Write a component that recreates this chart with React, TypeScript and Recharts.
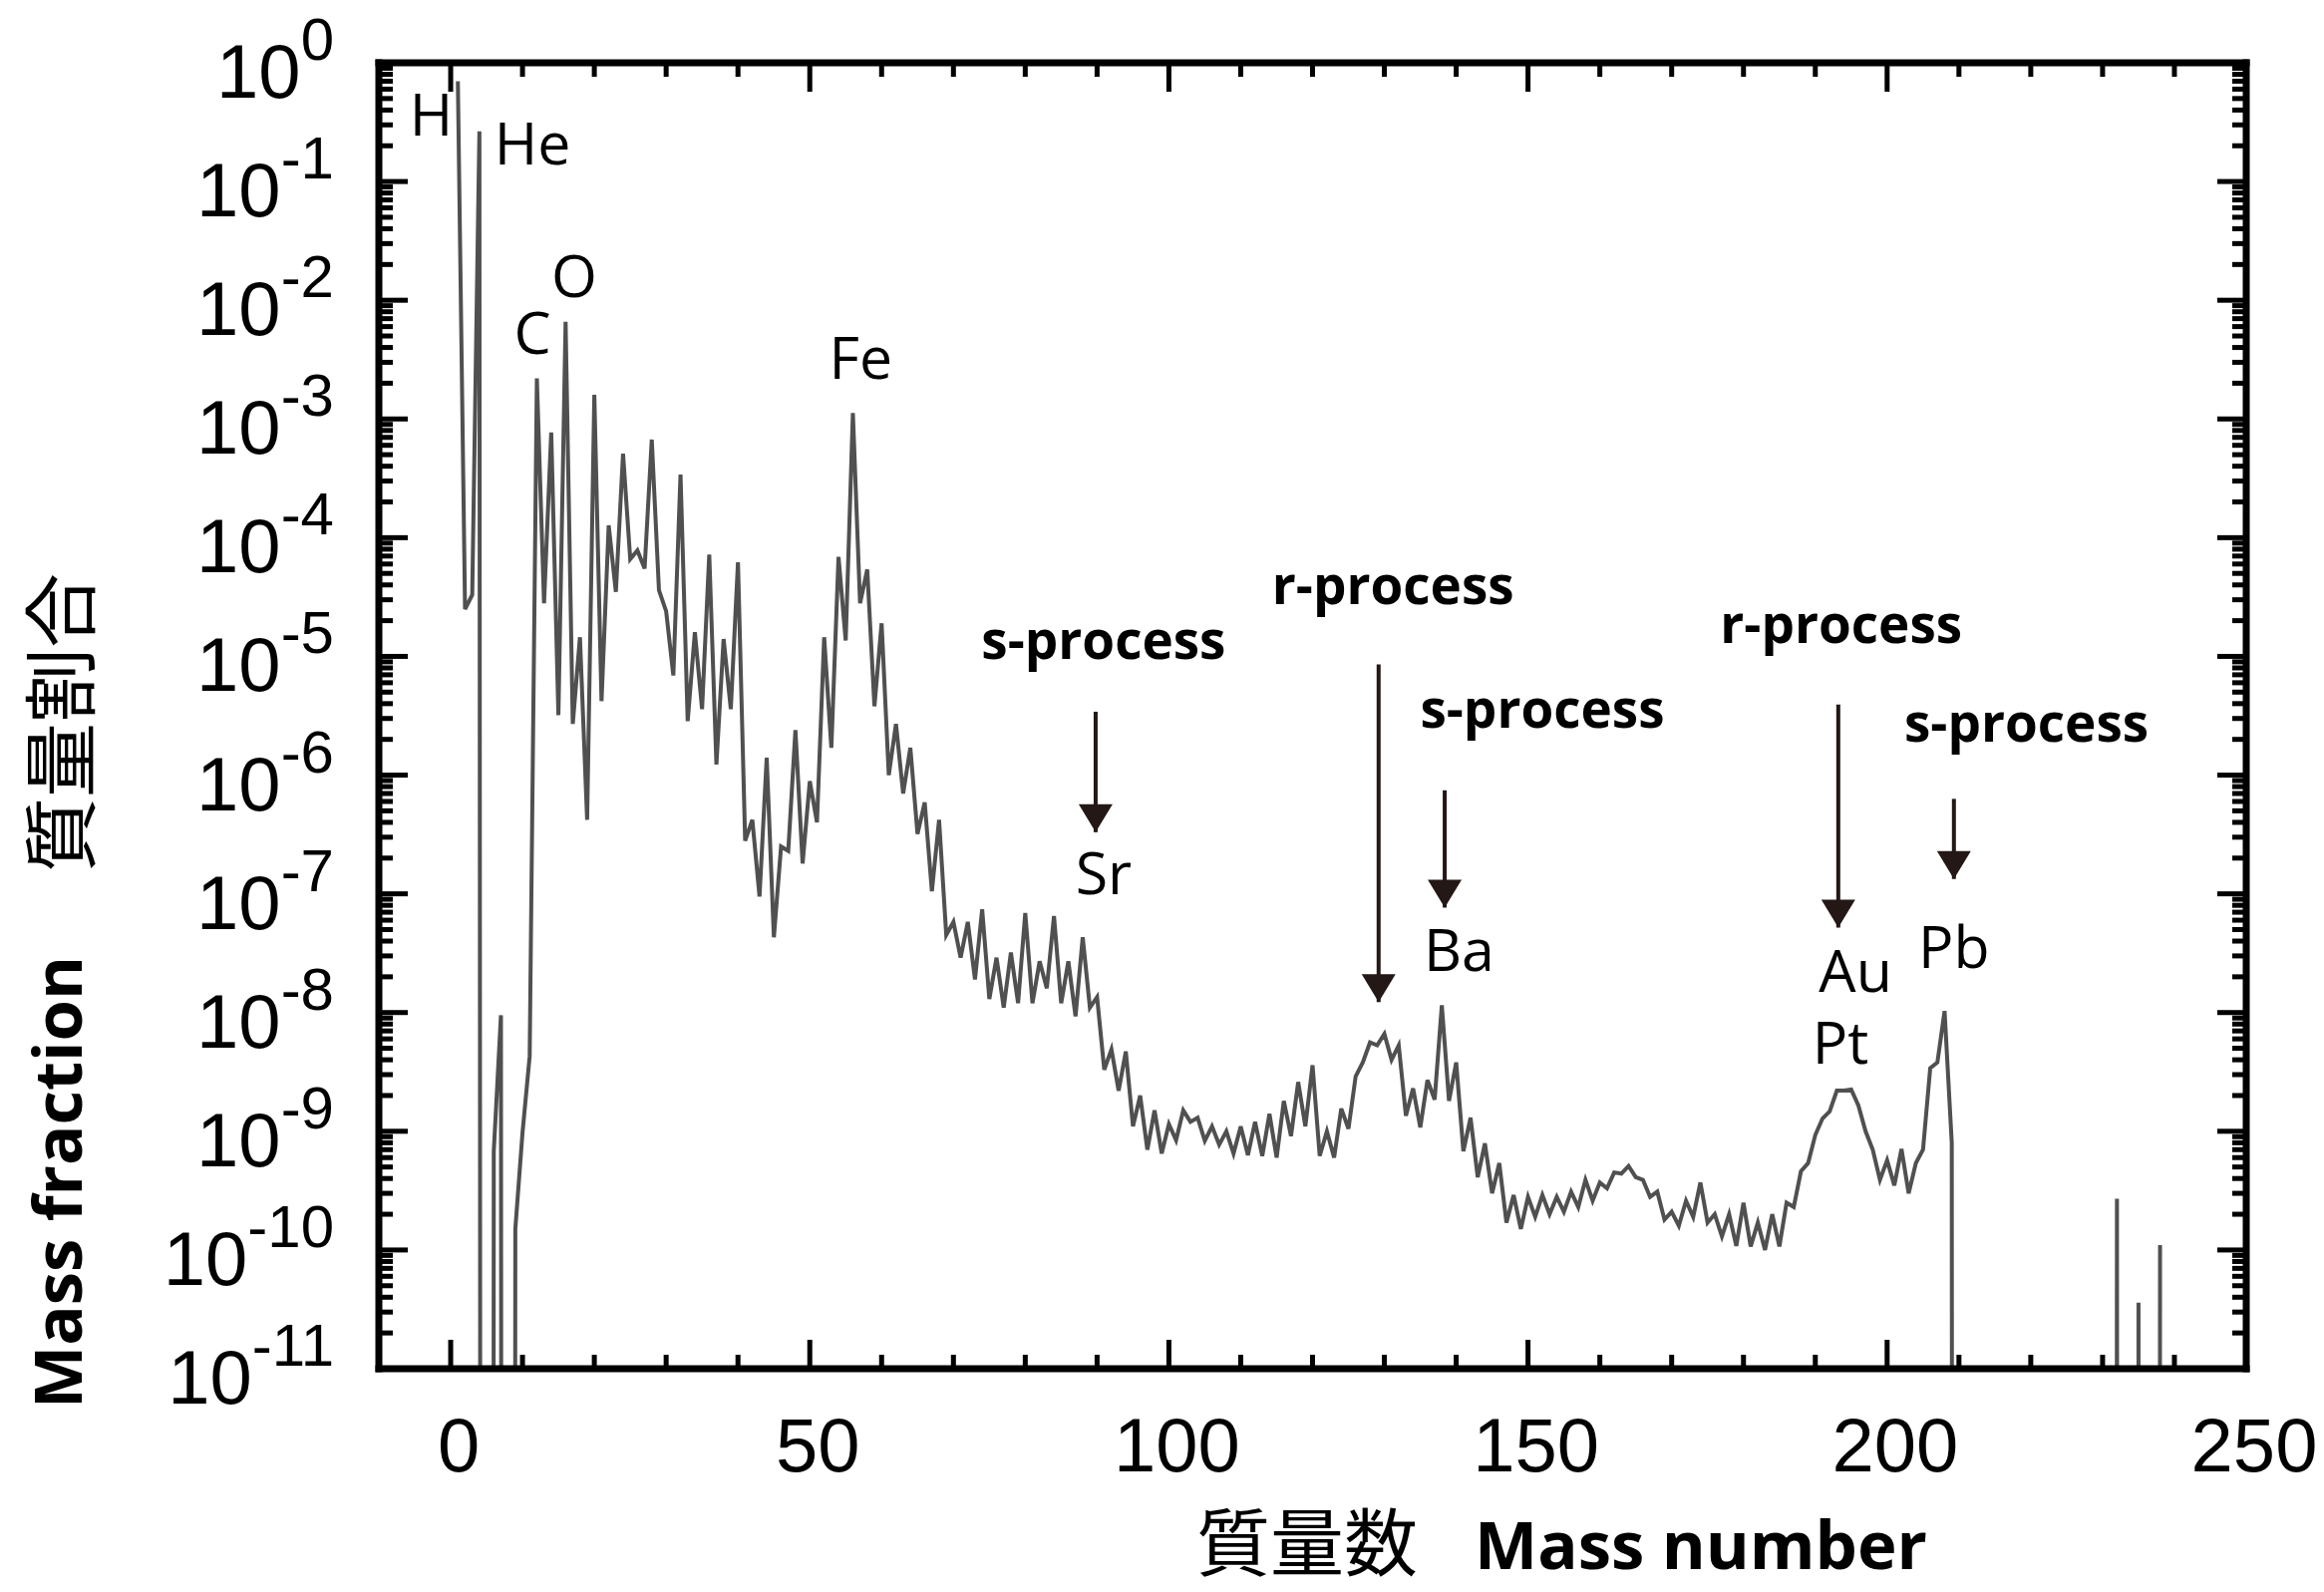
import React from 'react';
import { LineChart, Line, XAxis, YAxis, ReferenceDot, ReferenceLine } from 'recharts';

// Solar-system mass fraction for each mass number A = 1 … 238 (0 = no stable nuclide)
const massFractions: number[] = [
  // A 1–10
  0.7, 2.5e-5, 3.3e-5, 0.265, 0, 6.8e-10, 9.5e-9, 0, 1.5e-10, 9.7e-10,
  // A 11–20
  4.3e-9, 2.2e-3, 2.8e-5, 7.7e-4, 3.2e-6, 6.6e-3, 2.7e-6, 1.45e-5, 4.2e-7, 1.6e-3,
  // A 21–30
  4.2e-6, 1.27e-4, 3.5e-5, 5.1e-4, 6.6e-5, 7.8e-5, 5.5e-5, 6.7e-4, 3.6e-5, 2.4e-5,
  // A 31–40
  6.9e-6, 3.4e-4, 2.85e-6, 1.6e-5, 3.6e-6, 7.2e-5, 1.23e-6, 1.4e-5, 3.6e-6, 6.2e-5,
  // A 41–50
  2.8e-7, 4.2e-7, 9.5e-8, 1.4e-6, 4.3e-8, 2.5e-7, 2.3e-7, 2.4e-6, 1.8e-7, 8.9e-7,
  // A 51–60
  4.0e-7, 1.45e-5, 1.7e-6, 6.9e-5, 1.36e-5, 1.12e-3, 2.8e-5, 5.4e-5, 3.8e-6, 1.9e-5,
  // A 61–70
  1.0e-6, 2.7e-6, 7.0e-7, 1.7e-6, 3.2e-7, 5.9e-7, 1.05e-7, 4.2e-7, 4.5e-8, 5.8e-8,
  // A 71–80
  2.9e-8, 5.8e-8, 1.9e-8, 7.4e-8, 1.3e-8, 2.9e-8, 1.1e-8, 3.2e-8, 1.2e-8, 6.9e-8,
  // A 81–90
  1.2e-8, 2.7e-8, 1.6e-8, 6.5e-8, 1.2e-8, 2.7e-8, 9.3e-9, 4.3e-8, 1.1e-8, 1.35e-8,
  // A 91–100
  3.3e-9, 4.9e-9, 2.2e-9, 4.7e-9, 1.1e-9, 2.0e-9, 7.0e-10, 1.5e-9, 6.5e-10, 1.15e-9,
  // A 101–110
  8.4e-10, 1.5e-9, 1.2e-9, 1.3e-9, 8.3e-10, 1.1e-9, 7.7e-10, 1.0e-9, 6.5e-10, 1.1e-9,
  // A 111–120
  6.3e-10, 1.2e-9, 6.2e-10, 1.4e-9, 6.0e-10, 1.8e-9, 9.1e-10, 2.6e-9, 1.1e-9, 3.6e-9,
  // A 121–130
  6.2e-10, 1.0e-9, 6.0e-10, 1.55e-9, 1.05e-9, 2.9e-9, 3.8e-9, 5.6e-9, 5.3e-9, 6.6e-9,
  // A 131–140
  4.0e-9, 5.3e-9, 1.35e-9, 2.3e-9, 1.08e-9, 2.7e-9, 1.85e-9, 1.15e-8, 1.8e-9, 3.8e-9,
  // A 141–150
  6.8e-10, 1.3e-9, 4.1e-10, 7.9e-10, 3.0e-10, 5.4e-10, 1.7e-10, 2.9e-10, 1.5e-10, 2.8e-10,
  // A 151–160
  1.9e-10, 2.9e-10, 2.0e-10, 2.8e-10, 2.1e-10, 3.1e-10, 2.3e-10, 3.9e-10, 2.6e-10, 3.7e-10,
  // A 161–170
  3.3e-10, 4.5e-10, 4.4e-10, 5.1e-10, 4.1e-10, 3.9e-10, 2.8e-10, 3.1e-10, 1.8e-10, 2.1e-10,
  // A 171–180
  1.6e-10, 2.6e-10, 1.9e-10, 3.7e-10, 1.7e-10, 2.0e-10, 1.3e-10, 2.0e-10, 1.08e-10, 2.5e-10,
  // A 181–190
  1.07e-10, 1.7e-10, 1.0e-10, 2.0e-10, 1.07e-10, 2.5e-10, 2.3e-10, 4.6e-10, 5.4e-10, 9.3e-10,
  // A 191–200
  1.28e-9, 1.47e-9, 2.2e-9, 2.2e-9, 2.25e-9, 1.65e-9, 1.0e-9, 7.0e-10, 3.9e-10, 5.7e-10,
  // A 201–210
  3.5e-10, 7.1e-10, 3.0e-10, 5.4e-10, 7.0e-10, 3.4e-9, 3.8e-9, 1.03e-8, 8.0e-10, 0,
  // A 211–220
  0, 0, 0, 0, 0, 0, 0, 0, 0, 0,
  // A 221–230
  0, 0, 0, 0, 0, 0, 0, 0, 0, 0,
  // A 231–238
  0, 2.7e-10, 0, 0, 3.6e-11, 0, 0, 1.1e-10,
];

// Axis ticks
const xMajorTicks = [0, 50, 100, 150, 200, 250];
const xMinorTicks = [10, 20, 30, 40, 60, 70, 80, 90, 110, 120, 130, 140, 160, 170, 180, 190, 210, 220, 230, 240];
const yDecadeExponents = [0, -1, -2, -3, -4, -5, -6, -7, -8, -9, -10, -11];
const yMinorMantissas = [2, 3, 4, 5, 6, 7, 8, 9];

// Element names written next to peaks: [label, mass number, log10 of mass fraction]
const elementLabels: [string, number, number][] = [
  ['H', -2.7, -0.613],
  ['He', 11.4, -0.858],
  ['C', 11.4, -2.452],
  ['O', 17.2, -1.975],
  ['Fe', 57.1, -2.658],
  ['Sr', 90.9, -7.003],
  ['Ba', 140.4, -7.646],
  ['Au', 195.6, -7.83],
  ['Pt', 193.5, -8.43],
  ['Pb', 209.3, -7.622],
];

// Nucleosynthesis process captions: [label, mass number, log10 of mass fraction]
const processLabels: [string, number, number][] = [
  ['s-process', 90.9, -5.019],
  ['r-process', 131.2, -4.561],
  ['s-process', 152.0, -5.597],
  ['r-process', 193.6, -4.887],
  ['s-process', 219.4, -5.718],
];

// Arrows under the captions: [mass number, log10 start, log10 tip]
const processArrows: [number, number, number][] = [
  [89.8, -5.466, -6.481],
  [129.2, -5.068, -7.912],
  [138.4, -6.128, -7.116],
  [193.2, -5.405, -7.284],
  [209.3, -6.2, -6.875],
];

const W = 2331;
const H = 1597;
const AXIS_SIZE = 1; // axes need a non-zero box to be drawn
const FLOOR = 1e-100; // stand-in for zero abundance on the log axis
const LINE_COLOR = '#505050';
const ARROW_COLOR = '#231815';
const TICK_FONT = "'Liberation Sans', Arial, Helvetica, sans-serif";
const LABEL_FONT = "'Open Sans', 'Noto Sans', sans-serif";
const CJK_FONT = "'Noto Sans CJK JP', 'Noto Sans CJK SC', sans-serif";

const chartData = massFractions.map((v, i) => ({ A: i + 1, v: v > 0 ? v : FLOOR }));
const xTicks = [...xMajorTicks, ...xMinorTicks].sort((a, b) => a - b);
const yTicks: number[] = [];
yDecadeExponents.forEach((e) => {
  yTicks.push(Math.pow(10, e));
  if (e > -11) yMinorMantissas.forEach((m) => yTicks.push(m * Math.pow(10, e - 1)));
});
yTicks.sort((a, b) => a - b);

const MAJOR_LEN = 29;
const MINOR_LEN = 14;
const TICK_W = 5;

const isDecade = (v: number) => Math.abs(Math.log10(v) - Math.round(Math.log10(v))) < 1e-6;
const isXMajor = (v: number) => xMajorTicks.includes(v);

const frameLine = { stroke: '#000', strokeWidth: 7, strokeLinecap: 'square' as const };

function LeftTick(props: any) {
  const { x, y, payload } = props;
  const v = payload.value as number;
  const major = isDecade(v);
  const exp = Math.round(Math.log10(v));
  return (
    <g>
      <line x1={x} y1={y} x2={x + (major ? MAJOR_LEN : MINOR_LEN)} y2={y} stroke="#000" strokeWidth={TICK_W} />
      {major && (
        <text x={x - 45} y={y + 35} textAnchor="end" fontFamily={TICK_FONT} fontSize={76} fill="#000">
          <tspan>10</tspan>
          <tspan dy={-38} fontSize={60}>{`${exp}`}</tspan>
        </text>
      )}
    </g>
  );
}

function RightTick(props: any) {
  const { x, y, payload } = props;
  const major = isDecade(payload.value);
  return <line x1={x} y1={y} x2={x - (major ? MAJOR_LEN : MINOR_LEN)} y2={y} stroke="#000" strokeWidth={TICK_W} />;
}

function BottomTick(props: any) {
  const { x, y, payload } = props;
  const major = isXMajor(payload.value);
  return (
    <g>
      <line x1={x} y1={y} x2={x} y2={y - (major ? MAJOR_LEN : MINOR_LEN)} stroke="#000" strokeWidth={TICK_W} />
      {major && (
        <text x={x + 8} y={y + 103} textAnchor="middle" fontFamily={TICK_FONT} fontSize={76} fill="#000">
          {payload.value}
        </text>
      )}
    </g>
  );
}

function TopTick(props: any) {
  const { x, y, payload } = props;
  const major = isXMajor(payload.value);
  return <line x1={x} y1={y} x2={x} y2={y + (major ? MAJOR_LEN : MINOR_LEN)} stroke="#000" strokeWidth={TICK_W} />;
}

function XTitle() {
  return (
    <g>
      <text x={1200} y={1575} fontFamily={CJK_FONT} fontSize={74} fill="#000">質量数</text>
      <text x={1479} y={1574} fontFamily={LABEL_FONT} fontWeight={700} fontSize={67} fill="#000">Mass number</text>
    </g>
  );
}

function YTitle() {
  return (
    <g>
      <text
        x={82}
        y={1186}
        transform="rotate(-90 82 1186)"
        textAnchor="middle"
        fontFamily={LABEL_FONT}
        fontWeight={700}
        fontSize={67}
        fill="#000"
      >
        Mass fraction
      </text>
      <text
        x={89}
        y={725}
        transform="rotate(-90 89 725)"
        textAnchor="middle"
        fontFamily={CJK_FONT}
        fontSize={75}
        fill="#000"
      >
        質量割合
      </text>
    </g>
  );
}

const textShape = (text: string, size: number, weight: number) => (p: any) => (
  <text x={p.cx} y={p.cy} textAnchor="middle" fontFamily={LABEL_FONT} fontSize={size} fontWeight={weight} fill="#000">
    {text}
  </text>
);

const arrowHead = (p: any) => (
  <polygon points={`${p.cx - 17},${p.cy - 28} ${p.cx + 17},${p.cy - 28} ${p.cx},${p.cy}`} fill={ARROW_COLOR} />
);

export default function App() {
  return (
    <div style={{ position: 'absolute', left: 0, top: 0, width: W, height: H, background: '#fff' }}>
      <LineChart
        width={W}
        height={H}
        data={chartData}
        margin={{ top: 63 - AXIS_SIZE, right: 78 - AXIS_SIZE, bottom: 224 - AXIS_SIZE, left: 380 - AXIS_SIZE }}
      >
        <XAxis
          xAxisId="bottom"
          dataKey="A"
          type="number"
          domain={[-10, 250]}
          allowDataOverflow
          ticks={xTicks}
          interval={0}
          height={AXIS_SIZE}
          tickSize={0}
          tickMargin={0}
          tickLine={false}
          tick={(p: any) => <BottomTick {...p} />}
          axisLine={frameLine}
          label={XTitle}
        />
        <XAxis
          xAxisId="top"
          orientation="top"
          dataKey="A"
          type="number"
          domain={[-10, 250]}
          allowDataOverflow
          ticks={xTicks}
          interval={0}
          height={AXIS_SIZE}
          tickSize={0}
          tickMargin={0}
          tickLine={false}
          tick={(p: any) => <TopTick {...p} />}
          axisLine={frameLine}
        />
        <YAxis
          yAxisId="left"
          type="number"
          scale="log"
          domain={[1e-11, 1]}
          allowDataOverflow
          ticks={yTicks}
          interval={0}
          width={AXIS_SIZE}
          tickSize={0}
          tickMargin={0}
          tickLine={false}
          tick={(p: any) => <LeftTick {...p} />}
          axisLine={frameLine}
          label={YTitle}
        />
        <YAxis
          yAxisId="right"
          orientation="right"
          type="number"
          scale="log"
          domain={[1e-11, 1]}
          allowDataOverflow
          ticks={yTicks}
          interval={0}
          width={AXIS_SIZE}
          tickSize={0}
          tickMargin={0}
          tickLine={false}
          tick={(p: any) => <RightTick {...p} />}
          axisLine={frameLine}
        />
        <Line
          xAxisId="bottom"
          yAxisId="left"
          dataKey="v"
          type="linear"
          stroke={LINE_COLOR}
          strokeWidth={4}
          dot={false}
          activeDot={false}
          isAnimationActive={false}
        />
        {processArrows.map(([a, from, to], i) => (
          <ReferenceLine
            key={`shaft-${i}`}
            xAxisId="bottom"
            yAxisId="left"
            segment={[
              { x: a, y: Math.pow(10, from) },
              { x: a, y: Math.pow(10, to) },
            ]}
            stroke={ARROW_COLOR}
            strokeWidth={4}
          />
        ))}
        {processArrows.map(([a, , to], i) => (
          <ReferenceDot
            key={`head-${i}`}
            xAxisId="bottom"
            yAxisId="left"
            x={a}
            y={Math.pow(10, to)}
            r={0}
            shape={arrowHead}
          />
        ))}
        {elementLabels.map(([t, a, e], i) => (
          <ReferenceDot
            key={`el-${i}`}
            xAxisId="bottom"
            yAxisId="left"
            x={a}
            y={Math.pow(10, e)}
            r={0}
            shape={textShape(t, 59, 400)}
          />
        ))}
        {processLabels.map(([t, a, e], i) => (
          <ReferenceDot
            key={`pr-${i}`}
            xAxisId="bottom"
            yAxisId="left"
            x={a}
            y={Math.pow(10, e)}
            r={0}
            shape={textShape(t, 53, 700)}
          />
        ))}
      </LineChart>
    </div>
  );
}
